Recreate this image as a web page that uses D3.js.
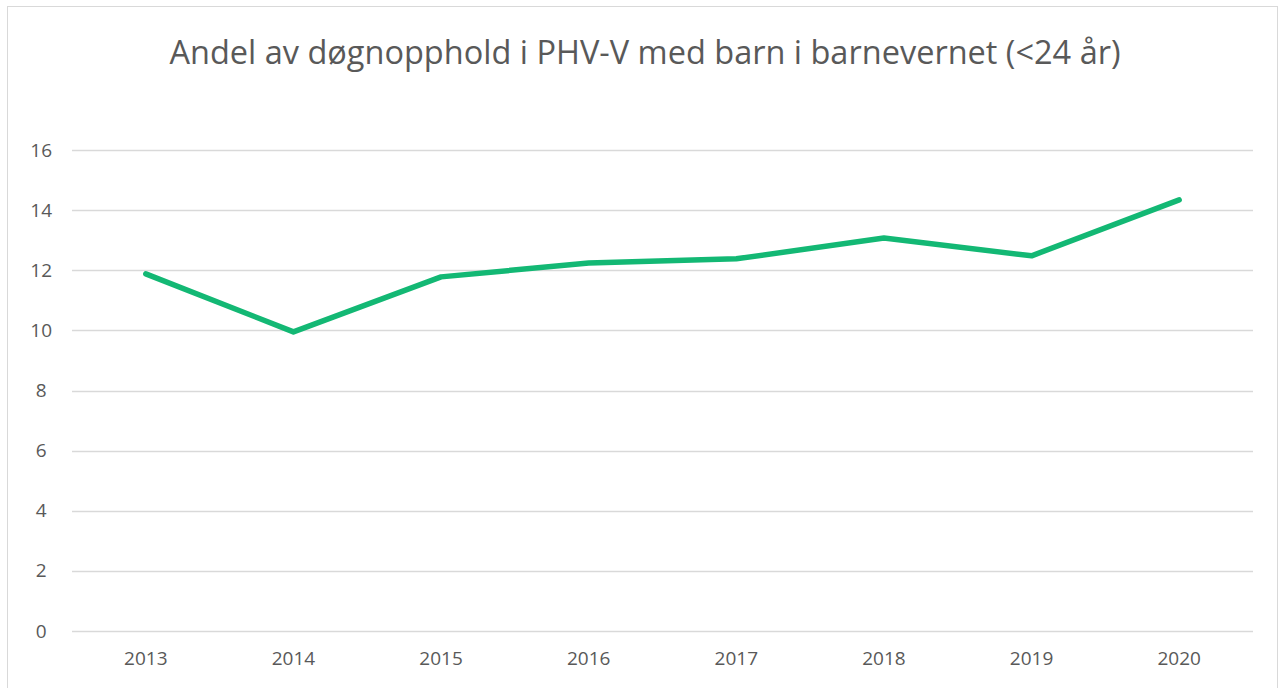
<!DOCTYPE html>
<html>
<head>
<meta charset="utf-8">
<title>D3</title>
<script src="https://d3js.org/d3.v7.min.js"></script>
<style>
body { margin: 0; background: #fff; }
text { font-family: "Open Sans", "Liberation Sans", sans-serif; fill: #595959; }
</style>
</head>
<body>
<script>
var years = ["2013", "2014", "2015", "2016", "2017", "2018", "2019", "2020"];
var values = [11.88, 9.95, 11.78, 12.24, 12.38, 13.07, 12.48, 14.34];
var yTicks = [0, 2, 4, 6, 8, 10, 12, 14, 16];
var title = "Andel av døgnopphold i PHV-V med barn i barnevernet (<24 år)";

var W = 1281, H = 688;
var margin = {top: 150, right: 28, bottom: 57, left: 72};
var innerW = W - margin.left - margin.right,
    innerH = H - margin.top - margin.bottom;

var svg = d3.select("body").append("svg")
  .attr("width", W)
  .attr("height", H);

// outer chart border
svg.append("rect")
  .attr("x", 7.5).attr("y", 6.5)
  .attr("width", W - 11).attr("height", H + 10)
  .attr("fill", "none")
  .attr("stroke", "#d9d9d9")
  .attr("stroke-width", 1);

svg.append("text")
  .attr("x", 645).attr("y", 64)
  .attr("text-anchor", "middle")
  .style("font-size", "32.5px")
  .text(title);

var g = svg.append("g")
  .attr("transform", "translate(" + margin.left + "," + margin.top + ")");

var x = d3.scaleBand().domain(years).range([0, innerW]);
var y = d3.scaleLinear().domain([0, 16]).range([innerH, 0]);

// gridlines
g.selectAll("line.grid")
  .data(yTicks)
  .enter().append("line")
  .attr("class", "grid")
  .attr("x1", 0).attr("x2", innerW)
  .attr("y1", function(d) { return Math.round(y(d)) + 0.5; })
  .attr("y2", function(d) { return Math.round(y(d)) + 0.5; })
  .attr("stroke", "#d9d9d9")
  .attr("stroke-width", 1.5);

var yAxis = g.append("g")
  .call(d3.axisLeft(y).tickValues(yTicks).tickSize(0).tickPadding(27));
yAxis.select(".domain").remove();
yAxis.selectAll("text").style("font-size", "19px").attr("text-anchor", "middle").attr("dx", "-0.2em");

var xAxis = g.append("g")
  .attr("transform", "translate(0," + innerH + ")")
  .call(d3.axisBottom(x).tickSize(0).tickPadding(21));
xAxis.select(".domain").remove();
xAxis.selectAll("text").style("font-size", "19px");

var line = d3.line()
  .x(function(d, i) { return x(years[i]) + x.bandwidth() / 2; })
  .y(function(d) { return y(d); });

g.append("path")
  .datum(values)
  .attr("d", line)
  .attr("fill", "none")
  .attr("stroke", "#13b874")
  .attr("stroke-width", 5.5)
  .attr("stroke-linecap", "round")
  .attr("stroke-linejoin", "round");
</script>
</body>
</html>
